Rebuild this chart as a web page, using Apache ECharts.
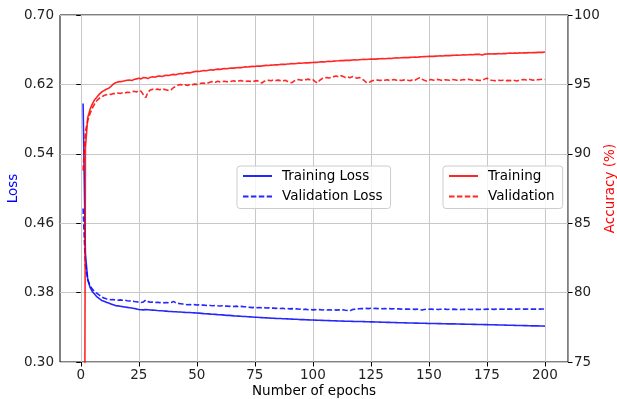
<!DOCTYPE html>
<html>
<head>
<meta charset="utf-8">
<script src="https://cdn.jsdelivr.net/npm/echarts@6/dist/echarts.min.js"></script>
<style>
  html, body { margin: 0; padding: 0; background: #fff; }
  #myChart { width: 617px; height: 399px; }
</style>
</head>
<body>
<div id="myChart"></div>
<script>
// 数据: epochs 1..200
const epochs = Array.from({ length: 200 }, (_, i) => i + 1)
const xTicks = [0, 25, 50, 75, 100, 125, 150, 175, 200]

const trainLoss = [
  0.598, 0.425, 0.395, 0.386, 0.381, 0.378, 0.375, 0.373, 0.371, 0.370,
  0.369, 0.368, 0.367, 0.366, 0.365, 0.3647, 0.3643, 0.3638, 0.3634, 0.363,
  0.3626, 0.3622, 0.3617, 0.3612, 0.3605, 0.3603, 0.3601, 0.3604, 0.3602, 0.3600,
  0.3598, 0.3596, 0.3593, 0.3591, 0.3590, 0.3587, 0.3586, 0.3583, 0.3582, 0.3580,
  0.3579, 0.3577, 0.3576, 0.3574, 0.3572, 0.3571, 0.3570, 0.3567, 0.3566, 0.3564,
  0.3563, 0.3561, 0.3558, 0.3556, 0.3555, 0.3552, 0.3550, 0.3549, 0.3546, 0.3544,
  0.3543, 0.3540, 0.3538, 0.3537, 0.3535, 0.3532, 0.3530, 0.3529, 0.3527, 0.3525,
  0.3524, 0.3522, 0.3520, 0.3518, 0.3516, 0.3515, 0.3513, 0.3512, 0.3510, 0.3509,
  0.3508, 0.3506, 0.3505, 0.3503, 0.3502, 0.3501, 0.3499, 0.3498, 0.3497, 0.3495,
  0.3494, 0.3493, 0.3492, 0.3490, 0.3489, 0.3488, 0.3487, 0.3486, 0.3485, 0.3484,
  0.3483, 0.3482, 0.3481, 0.3480, 0.3479, 0.3478, 0.3477, 0.3476, 0.3475, 0.3474,
  0.3473, 0.3472, 0.3471, 0.3470, 0.3470, 0.3469, 0.3468, 0.3467, 0.3467, 0.3466,
  0.3466, 0.3465, 0.3464, 0.3464, 0.3463, 0.3462, 0.3461, 0.3461, 0.3460, 0.3459,
  0.3458, 0.3457, 0.3457, 0.3456, 0.3455, 0.3454, 0.3453, 0.3452, 0.3452, 0.3451,
  0.3450, 0.3450, 0.3449, 0.3448, 0.3448, 0.3447, 0.3446, 0.3446, 0.3445, 0.3444,
  0.3444, 0.3443, 0.3443, 0.3442, 0.3442, 0.3441, 0.3441, 0.3440, 0.3440, 0.3439,
  0.3439, 0.3438, 0.3438, 0.3437, 0.3437, 0.3436, 0.3436, 0.3435, 0.3434, 0.3434,
  0.3433, 0.3433, 0.3432, 0.3431, 0.3431, 0.3430, 0.3429, 0.3429, 0.3428, 0.3427,
  0.3427, 0.3426, 0.3425, 0.3424, 0.3424, 0.3423, 0.3422, 0.3421, 0.3421, 0.3420,
  0.3419, 0.3419, 0.3418, 0.3417, 0.3417, 0.3416, 0.3416, 0.3415, 0.3415, 0.3414
]

const valLoss = [
  0.477, 0.412, 0.395, 0.388, 0.384, 0.381, 0.379, 0.377, 0.375, 0.3737,
  0.3728, 0.3722, 0.3718, 0.3720, 0.3714, 0.3712, 0.3716, 0.3711, 0.3713, 0.3706,
  0.3704, 0.3706, 0.3698, 0.3694, 0.3690, 0.3686, 0.3692, 0.3714, 0.3696, 0.3688,
  0.3690, 0.3686, 0.3688, 0.3684, 0.3687, 0.3682, 0.3685, 0.3683, 0.3686, 0.3699,
  0.3680, 0.3676, 0.3672, 0.3668, 0.3664, 0.3660, 0.3662, 0.3659, 0.3661, 0.3657,
  0.3658, 0.3655, 0.3657, 0.3652, 0.3655, 0.3651, 0.3649, 0.3652, 0.3648, 0.3646,
  0.3649, 0.3644, 0.3646, 0.3641, 0.3643, 0.3640, 0.3644, 0.3636, 0.3641, 0.3638,
  0.3636, 0.3632, 0.3630, 0.3627, 0.3631, 0.3626, 0.3629, 0.3624, 0.3627, 0.3622,
  0.3625, 0.3620, 0.3623, 0.3618, 0.3621, 0.3616, 0.3619, 0.3614, 0.3617, 0.3612,
  0.3615, 0.3610, 0.3613, 0.3608, 0.3611, 0.3606, 0.3609, 0.3603, 0.3606, 0.3601,
  0.3604, 0.3602, 0.3605, 0.3600, 0.3603, 0.3599, 0.3602, 0.3600, 0.3603, 0.3598,
  0.3601, 0.3599, 0.3602, 0.3597, 0.3594, 0.3590, 0.3604, 0.3608, 0.3612, 0.3614,
  0.3617, 0.3614, 0.3618, 0.3615, 0.3619, 0.3616, 0.3618, 0.3615, 0.3617, 0.3614,
  0.3616, 0.3613, 0.3615, 0.3612, 0.3614, 0.3611, 0.3613, 0.3610, 0.3612, 0.3609,
  0.3611, 0.3608, 0.3610, 0.3607, 0.3609, 0.3604, 0.3600, 0.3606, 0.3609, 0.3608,
  0.3610, 0.3607, 0.3609, 0.3606, 0.3608, 0.3607, 0.3609, 0.3606, 0.3608, 0.3607,
  0.3609, 0.3606, 0.3608, 0.3605, 0.3607, 0.3606, 0.3608, 0.3605, 0.3607, 0.3606,
  0.3608, 0.3606, 0.3609, 0.3607, 0.3610, 0.3608, 0.3610, 0.3607, 0.3609, 0.3608,
  0.3610, 0.3608, 0.3611, 0.3609, 0.3611, 0.3608, 0.3610, 0.3609, 0.3611, 0.3609,
  0.3611, 0.3609, 0.3612, 0.3610, 0.3611, 0.3609, 0.3612, 0.3610, 0.3611, 0.3611
]

const trainAcc = [
  20.0, 90.4, 92.6, 93.2, 93.6, 93.9, 94.1, 94.3, 94.45, 94.55,
  94.65, 94.72, 94.85, 95.02, 95.12, 95.18, 95.2, 95.22, 95.26, 95.3,
  95.32, 95.28, 95.36, 95.4, 95.44, 95.4, 95.5, 95.48, 95.42, 95.52,
  95.55, 95.52, 95.58, 95.6, 95.57, 95.63, 95.66, 95.64, 95.7, 95.72,
  95.7, 95.75, 95.78, 95.76, 95.82, 95.85, 95.83, 95.88, 95.92, 95.95,
  95.93, 95.97, 96.0, 95.98, 96.02, 96.05, 96.03, 96.07, 96.1, 96.08,
  96.12, 96.14, 96.13, 96.16, 96.18, 96.17, 96.2, 96.22, 96.21, 96.24,
  96.26, 96.25, 96.28, 96.3, 96.29, 96.32, 96.33, 96.32, 96.35, 96.37,
  96.36, 96.39, 96.4, 96.42, 96.41, 96.44, 96.45, 96.44, 96.47, 96.48,
  96.5, 96.49, 96.51, 96.53, 96.52, 96.54, 96.56, 96.55, 96.57, 96.58,
  96.6, 96.59, 96.62, 96.63, 96.62, 96.65, 96.66, 96.65, 96.68, 96.69,
  96.7, 96.72, 96.71, 96.73, 96.74, 96.73, 96.76, 96.77, 96.76, 96.78,
  96.79, 96.8, 96.79, 96.81, 96.82, 96.83, 96.82, 96.84, 96.85, 96.86,
  96.85, 96.87, 96.88, 96.87, 96.9, 96.91, 96.9, 96.92, 96.93, 96.94,
  96.93, 96.95, 96.96, 96.97, 96.96, 96.98, 96.99, 97.0, 97.01, 97.02,
  97.03, 97.02, 97.04, 97.05, 97.06, 97.05, 97.07, 97.08, 97.07, 97.09,
  97.1, 97.11, 97.1, 97.12, 97.13, 97.12, 97.14, 97.15, 97.14, 97.16,
  97.17, 97.16, 97.12, 97.18, 97.19, 97.2, 97.19, 97.21, 97.2, 97.22,
  97.21, 97.23, 97.22, 97.24, 97.25, 97.24, 97.26, 97.25, 97.27, 97.26,
  97.28, 97.27, 97.29, 97.28, 97.3, 97.29, 97.31, 97.32, 97.31, 97.33
]

const valAcc = [
  88.8, 91.6, 92.4, 92.9, 93.3, 93.6, 93.85, 94.0, 94.1, 94.2,
  94.25, 94.3, 94.28, 94.34, 94.33, 94.38, 94.35, 94.4, 94.38, 94.44,
  94.42, 94.48, 94.5, 94.45, 94.55, 94.5, 94.25, 94.05, 94.45, 94.6,
  94.65, 94.6, 94.66, 94.62, 94.68, 94.64, 94.6, 94.55, 94.62, 94.78,
  94.85, 94.95, 95.0, 94.93, 94.98, 94.92, 95.0, 94.97, 95.02, 95.0,
  95.05, 95.08, 95.1, 95.05, 95.12, 95.18, 95.2, 95.16, 95.22, 95.18,
  95.2, 95.23, 95.19, 95.24, 95.22, 95.26, 95.2, 95.25, 95.28, 95.22,
  95.2, 95.25, 95.22, 95.18, 95.24, 95.27, 95.2, 95.1, 95.22, 95.28,
  95.3, 95.26, 95.32, 95.28, 95.31, 95.27, 95.24, 95.3, 95.22, 95.15,
  95.12, 95.25, 95.33, 95.35, 95.3, 95.36, 95.34, 95.38, 95.32, 95.35,
  95.2, 95.1, 95.3, 95.42, 95.45, 95.5, 95.46, 95.52, 95.56, 95.6,
  95.55, 95.62, 95.58, 95.5, 95.54, 95.48, 95.56, 95.52, 95.45, 95.5,
  95.42, 95.3, 95.15, 95.1, 95.22, 95.28, 95.3, 95.32, 95.28, 95.33,
  95.3, 95.34, 95.29, 95.32, 95.35, 95.3, 95.33, 95.28, 95.31, 95.34,
  95.3, 95.27, 95.33, 95.3, 95.4, 95.48, 95.38, 95.3, 95.25, 95.32,
  95.35, 95.3, 95.33, 95.36, 95.31, 95.28, 95.34, 95.32, 95.3, 95.35,
  95.33, 95.3, 95.28, 95.32, 95.35, 95.33, 95.36, 95.34, 95.3, 95.33,
  95.31, 95.28, 95.3, 95.38, 95.45, 95.35, 95.3, 95.28, 95.25, 95.3,
  95.28, 95.3, 95.26, 95.29, 95.27, 95.31, 95.28, 95.25, 95.3, 95.33,
  95.35, 95.32, 95.38, 95.34, 95.3, 95.36, 95.33, 95.35, 95.37, 95.35
]

const font = 'DejaVu Sans'
const blue = 'rgba(0, 0, 255, 0.85)'
const red = 'rgba(255, 0, 0, 0.85)'
const dash = [5.5, 2.4]

const pairs = (vals) => epochs.map((e, i) => [e, vals[i]])

let myChart = echarts.init(document.getElementById('myChart'), null, { renderer: 'canvas' })

const legendBase = {
  orient: 'vertical',
  top: 166,
  itemWidth: 29,
  itemHeight: 14,
  itemGap: 6.5,
  padding: [3, 8, 5, 5],
  borderColor: '#cccccc',
  borderWidth: 1,
  borderRadius: 3,
  backgroundColor: 'rgba(255,255,255,0.8)',
  itemStyle: { opacity: 0 },
  textStyle: { fontFamily: font, fontSize: 13.5, color: '#000', padding: [0, 0, 0, 5] }
}

let option = {
  animation: false,
  grid: {
    left: 60, right: 49, top: 15, bottom: 37,
    containLabel: false,
    outerBoundsMode: 'none',
    show: true, borderColor: '#000', borderWidth: 1, backgroundColor: 'transparent'
  },
  legend: [
    Object.assign({}, legendBase, { left: 237, data: ['Training Loss', 'Validation Loss'] }),
    Object.assign({}, legendBase, { left: 443, data: ['Training', 'Validation'] })
  ],
  xAxis: {
    type: 'value',
    min: -8.95,
    max: 209.95,
    name: 'Number of epochs',
    nameLocation: 'middle',
    nameGap: 22,
    nameMoveOverlap: false,
    nameTextStyle: { fontFamily: font, fontSize: 13.5, color: '#000' },
    axisLine: { show: false },
    axisTick: { show: true, length: 4.5, lineStyle: { color: '#000' }, customValues: xTicks },
    axisLabel: { fontFamily: font, fontSize: 13.5, color: '#222', margin: 6, customValues: xTicks },
    splitLine: { show: true, lineStyle: { color: '#c8c8c8', width: 1 } }
  },
  yAxis: [
    {
      type: 'value',
      min: 0.30, max: 0.70, interval: 0.08,
      name: 'Loss',
      nameLocation: 'middle',
      nameRotate: 90,
      nameGap: 40,
      nameMoveOverlap: false,
      nameTextStyle: { fontFamily: font, fontSize: 13.5, color: '#0000ff' },
      axisLine: { show: false },
      axisTick: { show: true, length: 4.5, lineStyle: { color: '#000' } },
      axisLabel: { fontFamily: font, fontSize: 13.5, color: '#222', margin: 6, formatter: v => v.toFixed(2) },
      splitLine: { show: true, lineStyle: { color: '#c8c8c8', width: 1 } }
    },
    {
      type: 'value',
      min: 75, max: 100, interval: 5,
      position: 'right',
      name: 'Accuracy (%)',
      nameLocation: 'middle',
      nameRotate: 90,
      nameGap: 35,
      nameMoveOverlap: false,
      nameTextStyle: { fontFamily: font, fontSize: 13.5, color: '#ff0000' },
      axisLine: { show: true, lineStyle: { color: '#999', width: 1 } },
      axisTick: { show: true, length: 4.5, lineStyle: { color: '#000' } },
      axisLabel: { fontFamily: font, fontSize: 13.5, color: '#222', margin: 6 },
      splitLine: { show: false }
    }
  ],
  series: [
    {
      name: 'Training Loss', type: 'line', yAxisIndex: 0, data: pairs(trainLoss),
      symbol: 'none', lineStyle: { color: blue, width: 1.6 }, itemStyle: { color: blue }
    },
    {
      name: 'Validation Loss', type: 'line', yAxisIndex: 0, data: pairs(valLoss),
      symbol: 'none', lineStyle: { color: blue, width: 1.6, type: dash }, itemStyle: { color: blue }
    },
    {
      name: 'Training', type: 'line', yAxisIndex: 1, data: pairs(trainAcc),
      symbol: 'none', clip: true, lineStyle: { color: red, width: 1.6 }, itemStyle: { color: red }
    },
    {
      name: 'Validation', type: 'line', yAxisIndex: 1, data: pairs(valAcc),
      symbol: 'none', lineStyle: { color: red, width: 1.6, type: dash }, itemStyle: { color: red }
    }
  ]
}
myChart.setOption(option)

window.addEventListener('resize', () => {
  myChart.resize()
})
</script>
</body>
</html>
